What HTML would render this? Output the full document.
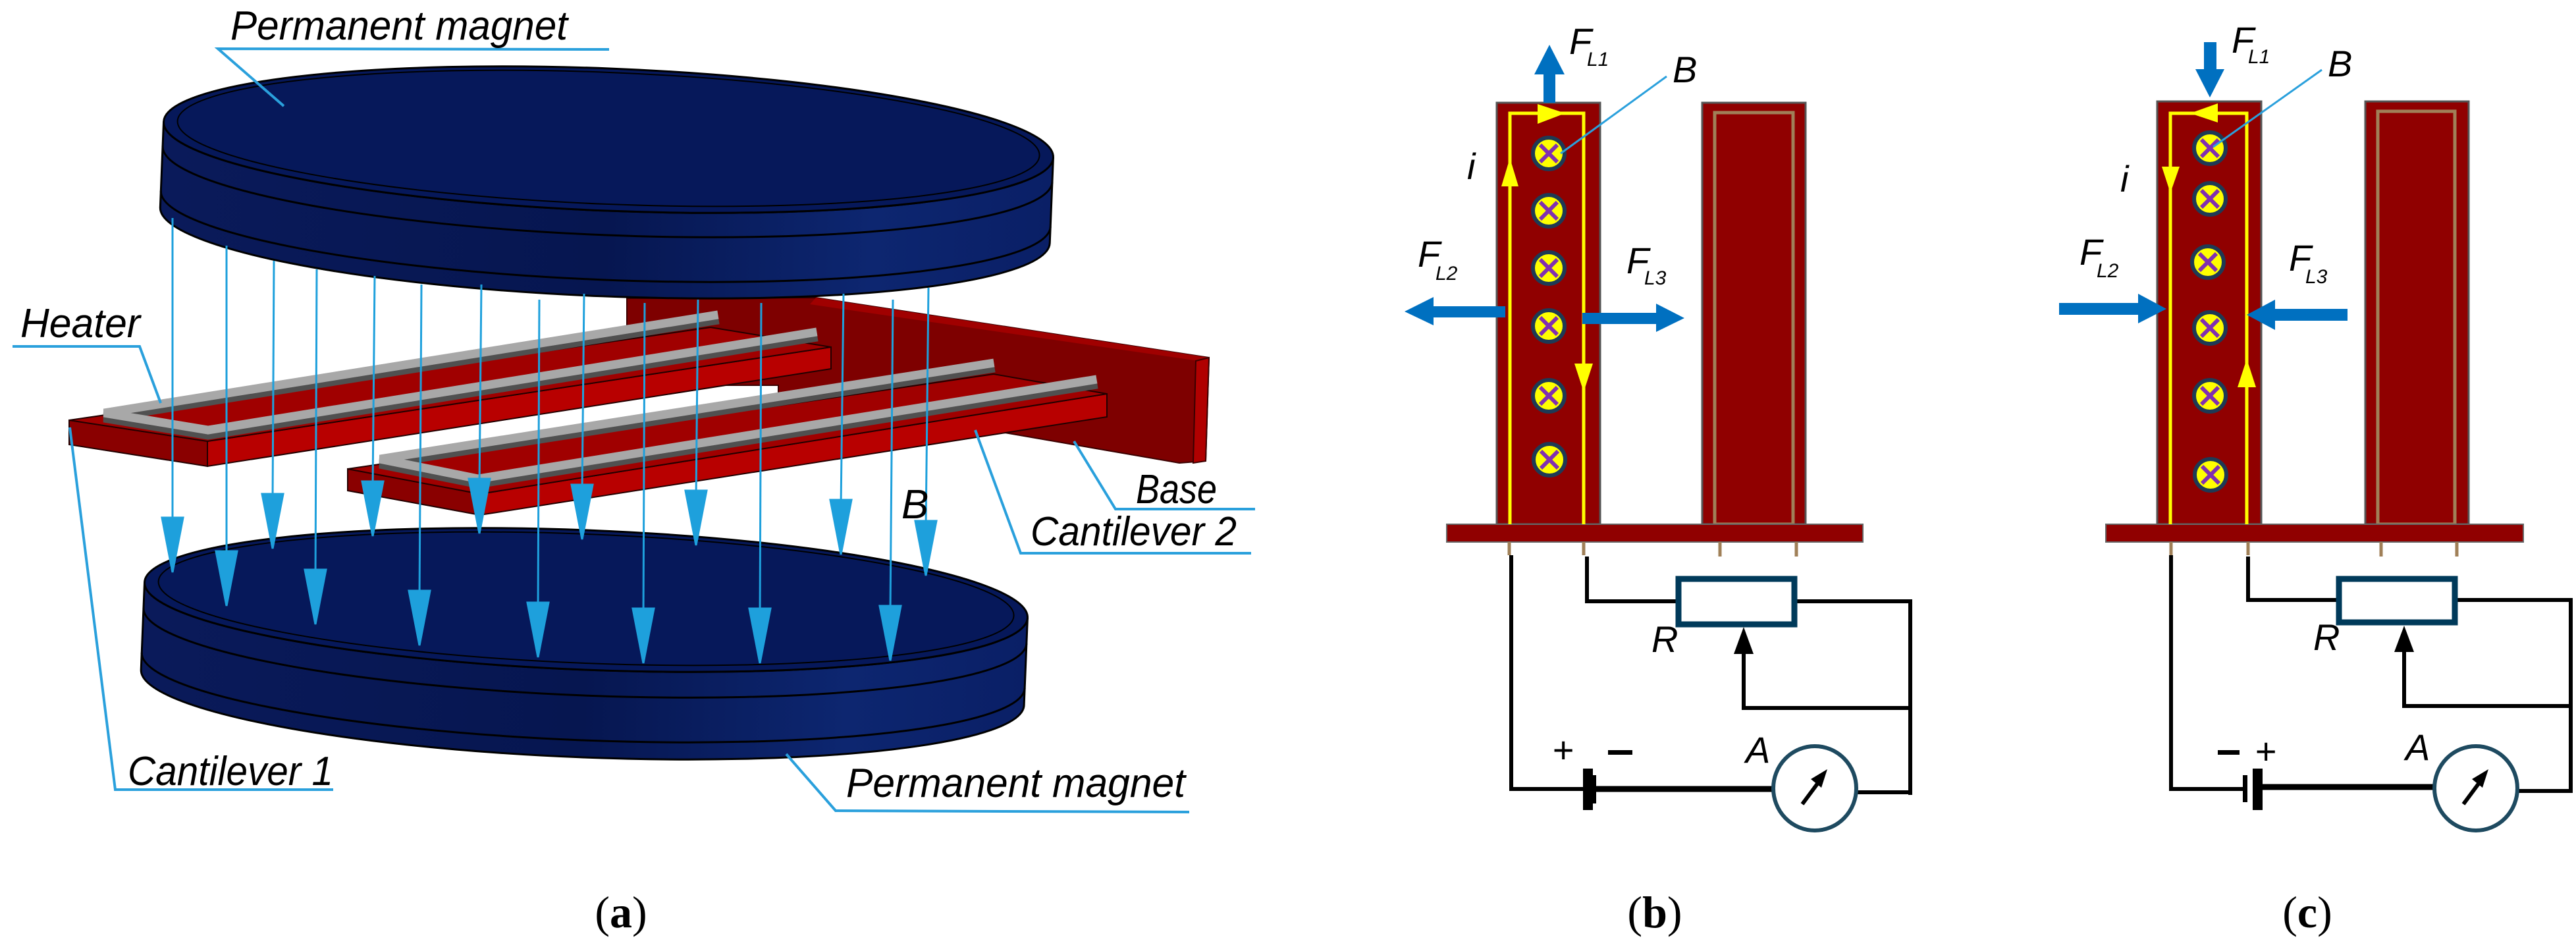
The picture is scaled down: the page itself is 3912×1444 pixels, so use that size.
<!DOCTYPE html>
<html><head><meta charset="utf-8"><style>
html,body{margin:0;padding:0;background:#fff;}
svg{display:block;}
.lbl{font-family:"Liberation Sans",sans-serif;font-style:italic;font-size:62px;fill:#000;}
.cap{font-family:"Liberation Serif",serif;font-size:68px;fill:#000;}
.f{font-family:"Liberation Sans",sans-serif;font-style:italic;font-size:56px;fill:#000;}
.s{font-family:"Liberation Sans",sans-serif;font-style:italic;font-size:30px;fill:#000;}
</style></head><body>
<svg width="3912" height="1444" viewBox="0 0 3912 1444" xmlns="http://www.w3.org/2000/svg">
<defs>
<linearGradient id="side" x1="0" x2="1" y1="0" y2="0">
<stop offset="0" stop-color="#0a1a5a"/><stop offset="0.5" stop-color="#061650"/><stop offset="0.8" stop-color="#0d2670"/><stop offset="1" stop-color="#0a1f66"/>
</linearGradient>
</defs>
<rect width="3912" height="1444" fill="#fff"/>

<!-- ===== Panel (a) ===== -->
<polygon points="952,453 1239,452 1836,543 1831,700 1791,703 1526,657 1182,640 1182,585 952,585" fill="#7e0000" stroke="#3a0000" stroke-width="2"/>
<polygon points="1239,452 1836,543 1820,548 1230,462" fill="#a00000"/>
<polygon points="1816,548 1836,543 1831,700 1812,703" fill="#b00000" stroke="#3a0000" stroke-width="2"/>

<g transform="rotate(2.3 924 212)">
<path d="M248,212 A676,108 0 0 0 1600,212 L1600,342 A676,108 0 0 1 248,342 Z" fill="url(#side)" stroke="#000" stroke-width="3"/>
<path d="M248,249 A676,108 0 0 0 1600,249" fill="none" stroke="#000" stroke-width="3"/>
<path d="M248,317 A676,108 0 0 0 1600,317" fill="none" stroke="#000" stroke-width="3"/>
<ellipse cx="924" cy="212" rx="676" ry="108" fill="#06185a" stroke="#000" stroke-width="3"/>
<ellipse cx="924" cy="210" rx="655" ry="100" fill="none" stroke="#000" stroke-width="2"/>
</g>

<polygon points="105,638 315,670 315,708 105,675" fill="#8a0000" stroke="#200" stroke-width="2"/>
<polygon points="315,670 1262,527 1262,560 315,708" fill="#b80000" stroke="#200" stroke-width="2"/>
<polygon points="105,638 1079,497 1262,527 315,670" fill="#a00000" stroke="#200" stroke-width="2"/>
<g stroke-linecap="square" fill="none">
<path d="M1084,486 L158,634 L316,660 L1234,512" stroke="#505050" stroke-width="15"/>
<path d="M1084,479 L158,627 L316,653 L1234,505" stroke="#a8a8a8" stroke-width="13"/>
</g>
<polygon points="528,712 729,750 729,782 528,745" fill="#8a0000" stroke="#200" stroke-width="2"/>
<polygon points="729,750 1681,598 1681,633 729,782" fill="#b80000" stroke="#200" stroke-width="2"/>
<polygon points="528,712 1509,568 1681,598 729,750" fill="#a00000" stroke="#200" stroke-width="2"/>
<g stroke-linecap="square" fill="none">
<path d="M1503,559 L577,704 L726,734 L1659,584" stroke="#505050" stroke-width="15"/>
<path d="M1503,552 L577,697 L726,727 L1659,577" stroke="#a8a8a8" stroke-width="13"/>
</g>

<g transform="rotate(2.3 890 911)">
<path d="M219,911 A671,106 0 0 0 1561,911 L1561,1044 A671,106 0 0 1 219,1044 Z" fill="url(#side)" stroke="#000" stroke-width="3"/>
<path d="M219,950 A671,106 0 0 0 1561,950" fill="none" stroke="#000" stroke-width="3"/>
<path d="M219,1018 A671,106 0 0 0 1561,1018" fill="none" stroke="#000" stroke-width="3"/>
<ellipse cx="890" cy="911" rx="671" ry="106" fill="#06185a" stroke="#000" stroke-width="3"/>
<ellipse cx="890" cy="909" rx="650" ry="98" fill="none" stroke="#000" stroke-width="2"/>
</g>

<g stroke="#1ea0dc" stroke-width="3" fill="#1ea0dc">
<line x1="262" y1="331" x2="262" y2="800"/><polygon points="246,786 278,786 262,869"/>
<line x1="344" y1="373" x2="344" y2="850"/><polygon points="328,837 360,837 344,920"/>
<line x1="416" y1="396" x2="414" y2="760"/><polygon points="398,750 430,750 414,833"/>
<line x1="481" y1="409" x2="479" y2="880"/><polygon points="463,865 495,865 479,948"/>
<line x1="569" y1="419" x2="566" y2="740"/><polygon points="550,731 582,731 566,814"/>
<line x1="640" y1="432" x2="637" y2="910"/><polygon points="621,897 653,897 637,980"/>
<line x1="731" y1="432" x2="728" y2="740"/><polygon points="712,727 744,727 728,810"/>
<line x1="819" y1="455" x2="817" y2="930"/><polygon points="801,915 833,915 817,998"/>
<line x1="887" y1="446" x2="884" y2="750"/><polygon points="868,736 900,736 884,819"/>
<line x1="979" y1="460" x2="977" y2="940"/><polygon points="961,924 993,924 977,1007"/>
<line x1="1060" y1="455" x2="1057" y2="760"/><polygon points="1041,745 1073,745 1057,828"/>
<line x1="1156" y1="460" x2="1154" y2="940"/><polygon points="1138,924 1170,924 1154,1007"/>
<line x1="1281" y1="446" x2="1277" y2="770"/><polygon points="1261,759 1293,759 1277,842"/>
<line x1="1356" y1="455" x2="1352" y2="930"/><polygon points="1336,920 1368,920 1352,1003"/>
<line x1="1410" y1="437" x2="1406" y2="800"/><polygon points="1390,791 1422,791 1406,874"/>
</g>

<g stroke="#2aa0dc" fill="none">
<polyline points="925,75 331,74 431,161" stroke-width="4"/>
<polyline points="19,526 212,526 244,612" stroke-width="4"/>
<polyline points="1906,773 1694,773 1631,670" stroke-width="4"/>
<polyline points="1900,840 1550,840 1481,653" stroke-width="4"/>
<polyline points="506,1199 175,1199 106,649" stroke-width="4"/>
<polyline points="1806,1233 1269,1231 1194,1145" stroke-width="4"/>
</g>
<text class="lbl" x="350" y="60" textLength="512" lengthAdjust="spacingAndGlyphs">Permanent magnet</text>
<text class="lbl" x="31" y="512" textLength="182" lengthAdjust="spacingAndGlyphs">Heater</text>
<text class="lbl" x="1725" y="764" textLength="123" lengthAdjust="spacingAndGlyphs">Base</text>
<text class="lbl" x="1565" y="828" textLength="313" lengthAdjust="spacingAndGlyphs">Cantilever 2</text>
<text class="lbl" x="1369" y="787">B</text>
<text class="lbl" x="194" y="1192" textLength="312" lengthAdjust="spacingAndGlyphs">Cantilever 1</text>
<text class="lbl" x="1285" y="1210" textLength="515" lengthAdjust="spacingAndGlyphs">Permanent magnet</text>
<text class="cap" x="943" y="1408" text-anchor="middle">(<tspan font-weight="bold">a</tspan>)</text>

<!-- ===== Panel (b) ===== -->
<g>
<rect x="2273" y="156" width="157" height="640" fill="#900000" stroke="#555" stroke-width="3"/>
<rect x="2585" y="156" width="157" height="640" fill="#900000" stroke="#555" stroke-width="3"/>
<rect x="2604" y="171" width="119" height="625" fill="none" stroke="#a08058" stroke-width="5"/>
<rect x="2197" y="796" width="632" height="27" fill="#900000" stroke="#666" stroke-width="2"/>
<g stroke="#a08058" stroke-width="5"><line x1="2292" y1="823" x2="2292" y2="843"/><line x1="2405" y1="823" x2="2405" y2="843"/><line x1="2612" y1="823" x2="2612" y2="845"/><line x1="2728" y1="823" x2="2728" y2="845"/></g>
<path d="M2293,796 V172 H2405 V796" fill="none" stroke="#ffff00" stroke-width="5"/>
<polygon points="2335,158 2377,172 2335,188" fill="#ffff00"/>
<polygon points="2280,283 2306,283 2293,240" fill="#ffff00"/>
<polygon points="2391,552 2419,552 2405,595" fill="#ffff00"/>
<g stroke-width="6">
<g transform="translate(2352,233)"><circle r="24" fill="#ffff00" stroke="#1e3a55"/><path d="M-13,-13 L13,13 M13,-13 L-13,13" stroke="#8030b0"/></g>
<g transform="translate(2352,320)"><circle r="24" fill="#ffff00" stroke="#1e3a55"/><path d="M-13,-13 L13,13 M13,-13 L-13,13" stroke="#8030b0"/></g>
<g transform="translate(2352,407)"><circle r="24" fill="#ffff00" stroke="#1e3a55"/><path d="M-13,-13 L13,13 M13,-13 L-13,13" stroke="#8030b0"/></g>
<g transform="translate(2352,495)"><circle r="24" fill="#ffff00" stroke="#1e3a55"/><path d="M-13,-13 L13,13 M13,-13 L-13,13" stroke="#8030b0"/></g>
<g transform="translate(2352,601)"><circle r="24" fill="#ffff00" stroke="#1e3a55"/><path d="M-13,-13 L13,13 M13,-13 L-13,13" stroke="#8030b0"/></g>
<g transform="translate(2353,698)"><circle r="24" fill="#ffff00" stroke="#1e3a55"/><path d="M-13,-13 L13,13 M13,-13 L-13,13" stroke="#8030b0"/></g>
</g>
<g fill="#0070c0">
<rect x="2344" y="110" width="18" height="46"/><polygon points="2330,113 2376,113 2353,68"/>
<rect x="2177" y="465" width="109" height="17"/><polygon points="2177,451 2177,494 2133,473"/>
<rect x="2403" y="475" width="112" height="17"/><polygon points="2515,461 2515,504 2558,483"/>
</g>
<line x1="2531" y1="116" x2="2370" y2="233" stroke="#2aa0dc" stroke-width="3"/>
<text class="f" x="2383" y="82">F</text><text class="s" x="2410" y="100">L1</text>
<text class="f" x="2540" y="125">B</text>
<text class="f" x="2228" y="272">i</text>
<text class="f" x="2153" y="405">F</text><text class="s" x="2180" y="425">L2</text>
<text class="f" x="2470" y="415">F</text><text class="s" x="2497" y="432">L3</text>
<g fill="none" stroke="#000" stroke-width="6">
<polyline points="2295,843 2295,1198 2404,1198"/>
<line x1="2419" y1="1198" x2="2692" y2="1198" stroke-width="9"/>
<polyline points="2410,845 2410,913 2545,913"/>
<polyline points="2729,913 2901,913 2901,1207"/>
<polyline points="2820,1203 2901,1203"/>
<polyline points="2648,990 2648,1075 2901,1075"/>
</g>
<rect x="2404" y="1167" width="15" height="63" fill="#000"/>
<rect x="2417" y="1177" width="7" height="43" fill="#000"/>
<rect x="2549" y="879" width="176" height="69" fill="#fff" stroke="#003a5a" stroke-width="9"/>
<polygon points="2633,993 2663,993 2648,952" fill="#000"/>
<ellipse cx="2756" cy="1197" rx="63" ry="64" fill="#fff" stroke="#1e4a60" stroke-width="6"/>
<line x1="2737" y1="1221" x2="2760" y2="1190" stroke="#000" stroke-width="6"/>
<polygon points="2775,1168 2750,1183 2766,1196" fill="#000"/>
<text class="f" x="2508" y="990">R</text>
<text class="f" x="2651" y="1158">A</text>
<text class="f" x="2357" y="1158" font-style="normal">+</text>
<rect x="2442" y="1139" width="37" height="7" fill="#000"/>
<text class="cap" x="2513" y="1408" text-anchor="middle">(<tspan font-weight="bold">b</tspan>)</text>
</g>

<!-- ===== Panel (c) ===== -->
<g>
<rect x="3276" y="154" width="158" height="642" fill="#900000" stroke="#555" stroke-width="3"/>
<rect x="3592" y="154" width="157" height="642" fill="#900000" stroke="#555" stroke-width="3"/>
<rect x="3611" y="169" width="117" height="627" fill="none" stroke="#a08058" stroke-width="5"/>
<rect x="3198" y="796" width="634" height="27" fill="#900000" stroke="#666" stroke-width="2"/>
<g stroke="#a08058" stroke-width="5"><line x1="3297" y1="823" x2="3297" y2="843"/><line x1="3414" y1="823" x2="3414" y2="843"/><line x1="3616" y1="823" x2="3616" y2="845"/><line x1="3731" y1="823" x2="3731" y2="845"/></g>
<path d="M3296,796 V172 H3412 V796" fill="none" stroke="#ffff00" stroke-width="5"/>
<polygon points="3368,157 3326,172 3368,186" fill="#ffff00"/>
<polygon points="3283,253 3310,253 3296,293" fill="#ffff00"/>
<polygon points="3398,588 3426,588 3412,545" fill="#ffff00"/>
<g stroke-width="6">
<g transform="translate(3356,225)"><circle r="24" fill="#ffff00" stroke="#1e3a55"/><path d="M-13,-13 L13,13 M13,-13 L-13,13" stroke="#8030b0"/></g>
<g transform="translate(3356,302)"><circle r="24" fill="#ffff00" stroke="#1e3a55"/><path d="M-13,-13 L13,13 M13,-13 L-13,13" stroke="#8030b0"/></g>
<g transform="translate(3353,398)"><circle r="24" fill="#ffff00" stroke="#1e3a55"/><path d="M-13,-13 L13,13 M13,-13 L-13,13" stroke="#8030b0"/></g>
<g transform="translate(3356,498)"><circle r="24" fill="#ffff00" stroke="#1e3a55"/><path d="M-13,-13 L13,13 M13,-13 L-13,13" stroke="#8030b0"/></g>
<g transform="translate(3356,601)"><circle r="24" fill="#ffff00" stroke="#1e3a55"/><path d="M-13,-13 L13,13 M13,-13 L-13,13" stroke="#8030b0"/></g>
<g transform="translate(3357,721)"><circle r="24" fill="#ffff00" stroke="#1e3a55"/><path d="M-13,-13 L13,13 M13,-13 L-13,13" stroke="#8030b0"/></g>
</g>
<g fill="#0070c0">
<rect x="3347" y="64" width="19" height="43"/><polygon points="3334,105 3378,105 3356,148"/>
<rect x="3127" y="460" width="120" height="18"/><polygon points="3247,446 3247,491 3290,469"/>
<rect x="3455" y="469" width="110" height="18"/><polygon points="3455,455 3455,501 3412,478"/>
</g>
<line x1="3526" y1="106" x2="3361" y2="223" stroke="#2aa0dc" stroke-width="3"/>
<text class="f" x="3389" y="80">F</text><text class="s" x="3414" y="96">L1</text>
<text class="f" x="3535" y="116">B</text>
<text class="f" x="3220" y="291">i</text>
<text class="f" x="3158" y="402">F</text><text class="s" x="3184" y="421">L2</text>
<text class="f" x="3476" y="411">F</text><text class="s" x="3501" y="430">L3</text>
<g fill="none" stroke="#000" stroke-width="6">
<polyline points="3297,843 3297,1198 3409,1198"/>
<line x1="3428" y1="1195" x2="3697" y2="1195" stroke-width="9"/>
<polyline points="3414,845 3414,911 3548,911"/>
<polyline points="3732,911 3904,911 3904,1204"/>
<polyline points="3823,1201 3904,1201"/>
<polyline points="3651,988 3651,1072 3904,1072"/>
</g>
<rect x="3406" y="1177" width="7" height="41" fill="#000"/>
<rect x="3421" y="1167" width="15" height="63" fill="#000"/>
<rect x="3552" y="879" width="176" height="66" fill="#fff" stroke="#003a5a" stroke-width="9"/>
<polygon points="3636,990 3666,990 3651,950" fill="#000"/>
<ellipse cx="3760" cy="1197" rx="63" ry="64" fill="#fff" stroke="#1e4a60" stroke-width="6"/>
<line x1="3741" y1="1221" x2="3764" y2="1190" stroke="#000" stroke-width="6"/>
<polygon points="3779,1168 3754,1183 3770,1196" fill="#000"/>
<text class="f" x="3513" y="987">R</text>
<text class="f" x="3653" y="1154">A</text>
<rect x="3368" y="1139" width="33" height="7" fill="#000"/>
<text class="f" x="3424" y="1160" font-style="normal">+</text>
<text class="cap" x="3504" y="1408" text-anchor="middle">(<tspan font-weight="bold">c</tspan>)</text>
</g>
</svg>
</body></html>
